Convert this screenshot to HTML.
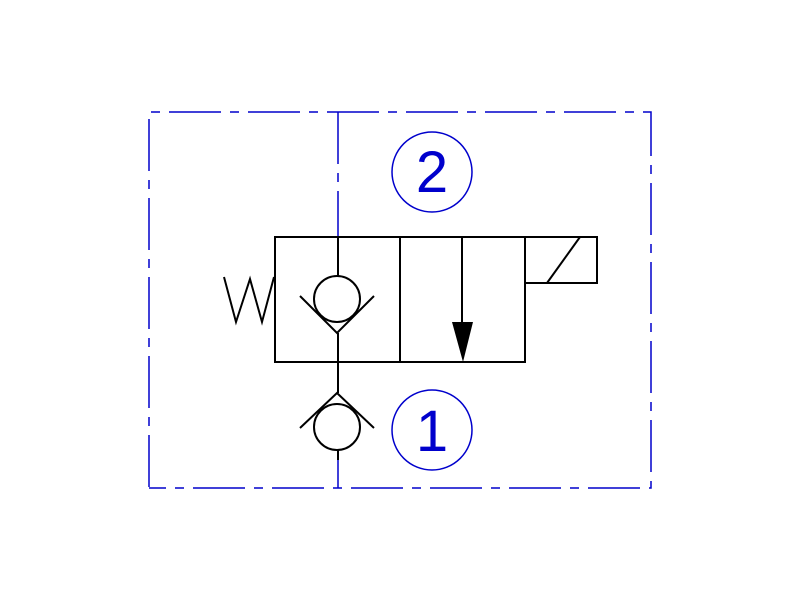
<!DOCTYPE html>
<html><head><style>html,body{margin:0;padding:0;background:#fff;}svg{display:block;}</style></head>
<body>
<svg width="800" height="600" viewBox="0 0 800 600" xmlns="http://www.w3.org/2000/svg">
<g fill="none" stroke="#0000cc" stroke-width="1.5">
<path d="M149 487 L149 112 L651 112 L651 488 L149 488" stroke-dasharray="52 9 9 9"/>
<path d="M338 112 L338 237" stroke-dasharray="52 9 9 9"/>
<line x1="338" y1="455" x2="338" y2="488"/>
<circle cx="432" cy="172" r="40"/>
<circle cx="432" cy="430" r="40"/>
</g>
<g fill="#0000cc" font-family="Liberation Sans, sans-serif" font-size="58" text-anchor="middle">
<text x="432" y="192">2</text>
<text x="432" y="451">1</text>
</g>
<g fill="none" stroke="#000" stroke-width="2">
<rect x="275" y="237" width="250" height="125"/>
<line x1="400" y1="237" x2="400" y2="362"/>
<rect x="525" y="237" width="72" height="46"/>
<line x1="547" y1="283" x2="580" y2="237"/>
<line x1="338" y1="237" x2="338" y2="276"/>
<circle cx="337" cy="299" r="23"/>
<polyline points="300,296 337,333 374,296"/>
<line x1="338" y1="333" x2="338" y2="393"/>
<polyline points="300,428 337,393 374,428"/>
<circle cx="337" cy="427" r="23"/>
<line x1="338" y1="450" x2="338" y2="460"/>
<polyline points="224,277 236,322 250,279 262,322 274,277"/>
<line x1="462" y1="237" x2="462" y2="322"/>
</g>
<polygon points="452,322 473,322 463,362" fill="#000"/>
</svg>
</body></html>
